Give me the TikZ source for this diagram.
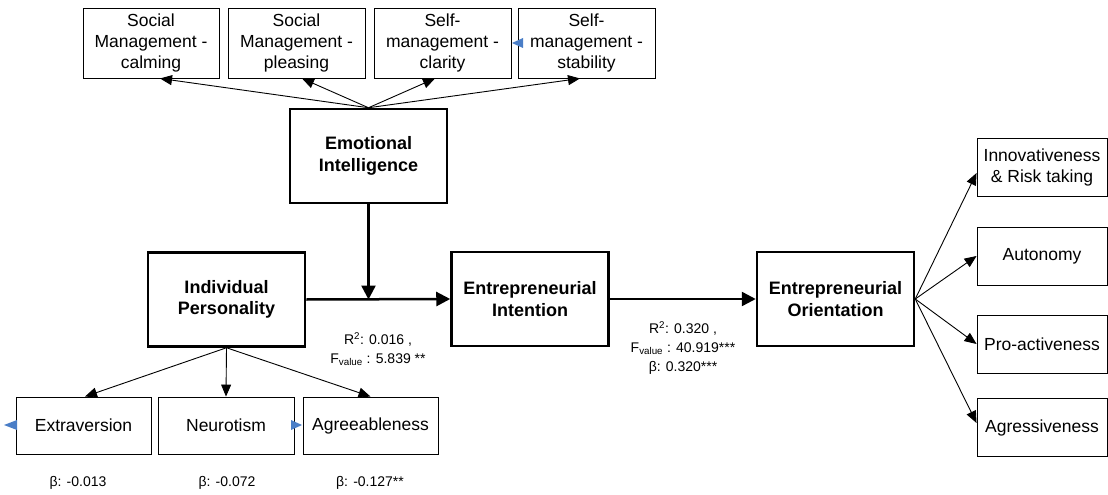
\documentclass[tikz,border=0pt]{standalone}
\usepackage{fontspec}
\setmainfont{Liberation Sans}
\usetikzlibrary{arrows.meta}
\definecolor{bluemark}{HTML}{4A7EC7}
\begin{document}
\begin{tikzpicture}[x=1pt,y=-1pt,
  thinbox/.style={draw, line width=0.9pt, inner sep=0pt, align=center,
    font=\fontsize{17.5}{21}\selectfont},
  thickbox/.style={draw, line width=2.5pt, inner sep=0pt, align=center,
    minimum width=157pt, minimum height=94pt,
    font=\fontsize{18}{21.5}\selectfont\bfseries},
  thinarrow/.style={line width=0.9pt, -{Triangle[length=12pt,width=10pt]}},
  thickarrow/.style={line width=2.5pt, -{Triangle[length=14pt,width=14pt]}},
  lbl/.style={inner sep=0pt, align=center, font=\fontsize{14}{19}\selectfont}
]
\useasboundingbox (0,0) rectangle (1108,495);

% top boxes
\node[thinbox, minimum width=136pt, minimum height=70pt] (s1) at (151,43) {Social\\Management -\\calming};
\node[thinbox, minimum width=137pt, minimum height=70pt] (s2) at (296.5,43) {Social\\Management -\\pleasing};
\node[thinbox, minimum width=137pt, minimum height=70pt] (s3) at (442.5,43) {Self-\\management -\\clarity};
\node[thinbox, minimum width=137pt, minimum height=70pt] (s4) at (586.5,43) {Self-\\management -\\stability};

% main boxes
\node[thickbox, minimum height=94pt] (ei) at (368.5,156) {Emotional\\Intelligence};
\node[thickbox] (ip) at (226.5,299.5) {Individual\\Personality};
\node[thickbox] (eint) at (530,299) {Entrepreneurial\\Intention};
\node[thickbox] (eo) at (835.5,299) {Entrepreneurial\\Orientation};

% right boxes
\node[thinbox, minimum width=130pt, minimum height=58pt] (inn) at (1042,167) {Innovativeness\\\& Risk taking};
\node[thinbox, minimum width=130pt, minimum height=58pt] (aut) at (1042,256) {Autonomy};
\node[thinbox, minimum width=130pt, minimum height=58pt] (pro) at (1042,344) {Pro-activeness};
\node[thinbox, minimum width=130pt, minimum height=58pt] (agr) at (1042,427.5) {Agressiveness};

% bottom boxes
\node[thinbox, minimum width=135pt, minimum height=57pt] (ext) at (83.5,425.5) {Extraversion};
\node[thinbox, minimum width=136pt, minimum height=57pt] (neu) at (226,425.5) {Neurotism};
\node[thinbox, minimum width=135pt, minimum height=57pt] (agb) at (370.5,425.5) {Agreeableness};

% labels
\node[lbl] (r1) at (378,349) {R\textsuperscript{2}: 0.016 ,\\F\textsubscript{value} : 5.839 **};
\node[lbl] (r2) at (683,348) {R\textsuperscript{2}: 0.320 ,\\F\textsubscript{value} : 40.919***\\β: 0.320***};
\node[lbl] (b1) at (78,483) {β: -0.013};
\node[lbl] (b2) at (227,483) {β: -0.072};
\node[lbl] (b3) at (370,483) {β: -0.127**};

% connectors top
\draw[thinarrow] (ei.north) -- ([xshift=9pt]s1.south);
\draw[thinarrow] (ei.north) -- ([xshift=5.5pt]s2.south);
\draw[thinarrow] (ei.north) -- ([xshift=-7.5pt]s3.south);
\draw[thinarrow] (ei.north) -- ([xshift=-6.5pt]s4.south);

% connectors bottom
\draw[thinarrow] (ip.south) -- ([xshift=1.5pt]ext.north);
\draw[thinarrow] (ip.south) -- (neu.north);
\draw[thinarrow] (ip.south) -- (agb.north);

% connectors right
\draw[thinarrow] (eo.east) -- ([yshift=-6pt]inn.west);
\draw[thinarrow] (eo.east) -- (aut.west);
\draw[thinarrow] (eo.east) -- (pro.west);
\draw[thinarrow] (eo.east) -- ([yshift=4.5pt]agr.west);

% main path
\coordinate (j) at (ei.south |- ip.east);
\draw[thickarrow] (ip.east) -- (eint.west);
\draw[thickarrow] (ei.south) -- (j);
\draw[thickarrow] (eint.east) -- (eo.west);

% small blue markers
\fill[bluemark] (4,425) -- (17,420) -- (17,430) -- cycle;
\fill[bluemark] (302,425) -- (291,420) -- (291,430) -- cycle;
\fill[bluemark] (512,43) -- (523,38) -- (523,48) -- cycle;
\end{tikzpicture}
\end{document}
